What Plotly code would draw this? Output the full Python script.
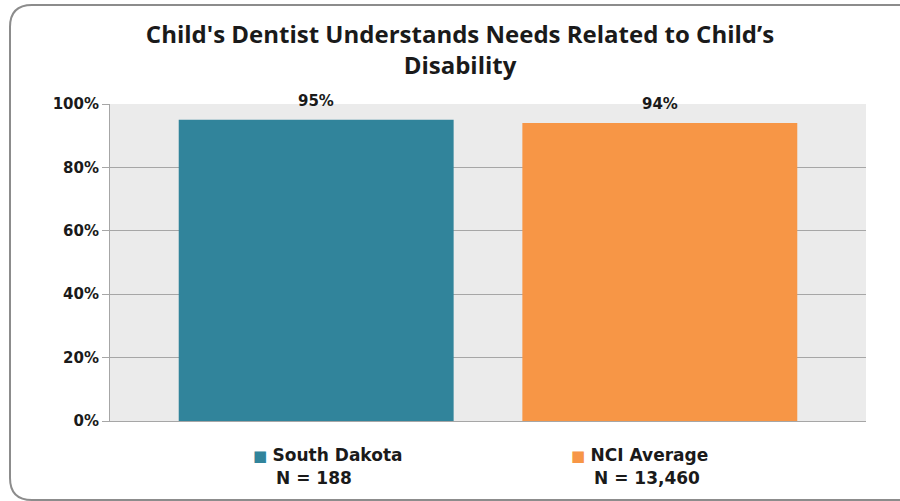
import plotly.graph_objects as go

categories = ["South Dakota", "NCI Average"]
values = [95, 94]
value_labels = ["95%", "94%"]
n_labels = ["N = 188", "N = 13,460"]
colors = ["#31849b", "#f79646"]
y_ticks = [0, 20, 40, 60, 80, 100]
y_tick_labels = ["0%", "20%", "40%", "60%", "80%", "100%"]
title_text = "Child's Dentist Understands Needs Related to Child’s<br>Disability"

# label offsets (styling)
name_shift = [11, -20]
n_shift = [-2, -13]

W, H = 900, 501
L, R, T, B = 110, 34, 104, 80
pw, ph = W - L - R, H - T - B

def px_x(p):
    return (p - L) / pw

def px_y(p):
    return (H - B - p) / ph

txt = "#1a1a1a"
fig = go.Figure()
fig.add_trace(go.Bar(
    x=categories, y=values, marker=dict(color=colors, line=dict(width=0)),
    width=0.8, hoverinfo="skip",
))

ann = []
for c, v, t in zip(categories, values, value_labels):
    ann.append(dict(x=c, y=v, xref="x", yref="y", text=f"<b>{t}</b>", showarrow=False,
                    yanchor="bottom", yshift=8,
                    font=dict(family="DejaVu Sans", size=15, color=txt)))
for c, col, n, s1, s2 in zip(categories, colors, n_labels, name_shift, n_shift):
    ann.append(dict(x=c, y=px_y(455), xref="x", yref="paper",
                    text=f"<span style='color:{col};font-size:15px'>■</span> <b>{c}</b>",
                    showarrow=False, yanchor="middle", xshift=s1,
                    font=dict(family="DejaVu Sans", size=17, color=txt)))
    ann.append(dict(x=c, y=px_y(478), xref="x", yref="paper",
                    text=f"<b>{n}</b>", showarrow=False, yanchor="middle", xshift=s2,
                    font=dict(family="DejaVu Sans", size=17, color=txt)))

# rounded border, open on the right (runs off the canvas)
x0, x1 = px_x(10), px_x(960)
y0, y1 = px_y(5), px_y(500)
rx, ry = 22 / pw, 22 / ph
path = (f"M {x1},{y0} L {x0+rx},{y0} Q {x0},{y0} {x0},{y0-ry} "
        f"L {x0},{y1+ry} Q {x0},{y1} {x0+rx},{y1} L {x1},{y1}")

fig.update_layout(
    width=W, height=H,
    margin=dict(l=L, r=R, t=T, b=B),
    paper_bgcolor="white", plot_bgcolor="#ebebeb",
    showlegend=False,
    title=dict(text=f"<b>{title_text}</b>", x=460 / W, xref="container", xanchor="center",
               y=1 - 43 / H, yref="container", yanchor="middle",
               font=dict(family="Open Sans", size=24, color=txt)),
    xaxis=dict(showticklabels=False, showgrid=False, zeroline=False,
               range=[-0.6, 1.6],
               showline=True, linecolor="#a6a6a6", linewidth=1, ticks=""),
    yaxis=dict(range=[0, 100], tickvals=y_ticks, ticktext=[f"<b>{t}</b>" for t in y_tick_labels],
               showgrid=True, gridcolor="#a6a6a6", gridwidth=1, zeroline=False,
               showline=True, linecolor="#a6a6a6", linewidth=1,
               ticks="outside", ticklen=7, tickcolor="#a6a6a6",
               tickfont=dict(family="DejaVu Sans", size=15, color=txt)),
    annotations=ann,
    shapes=[dict(type="path", path=path, xref="paper", yref="paper",
                 line=dict(color="#8c8c8c", width=2), layer="above")],
)

fig.write_html("out.html", config={"displayModeBar": False},
               post_script="document.body.style.margin='0px';")
